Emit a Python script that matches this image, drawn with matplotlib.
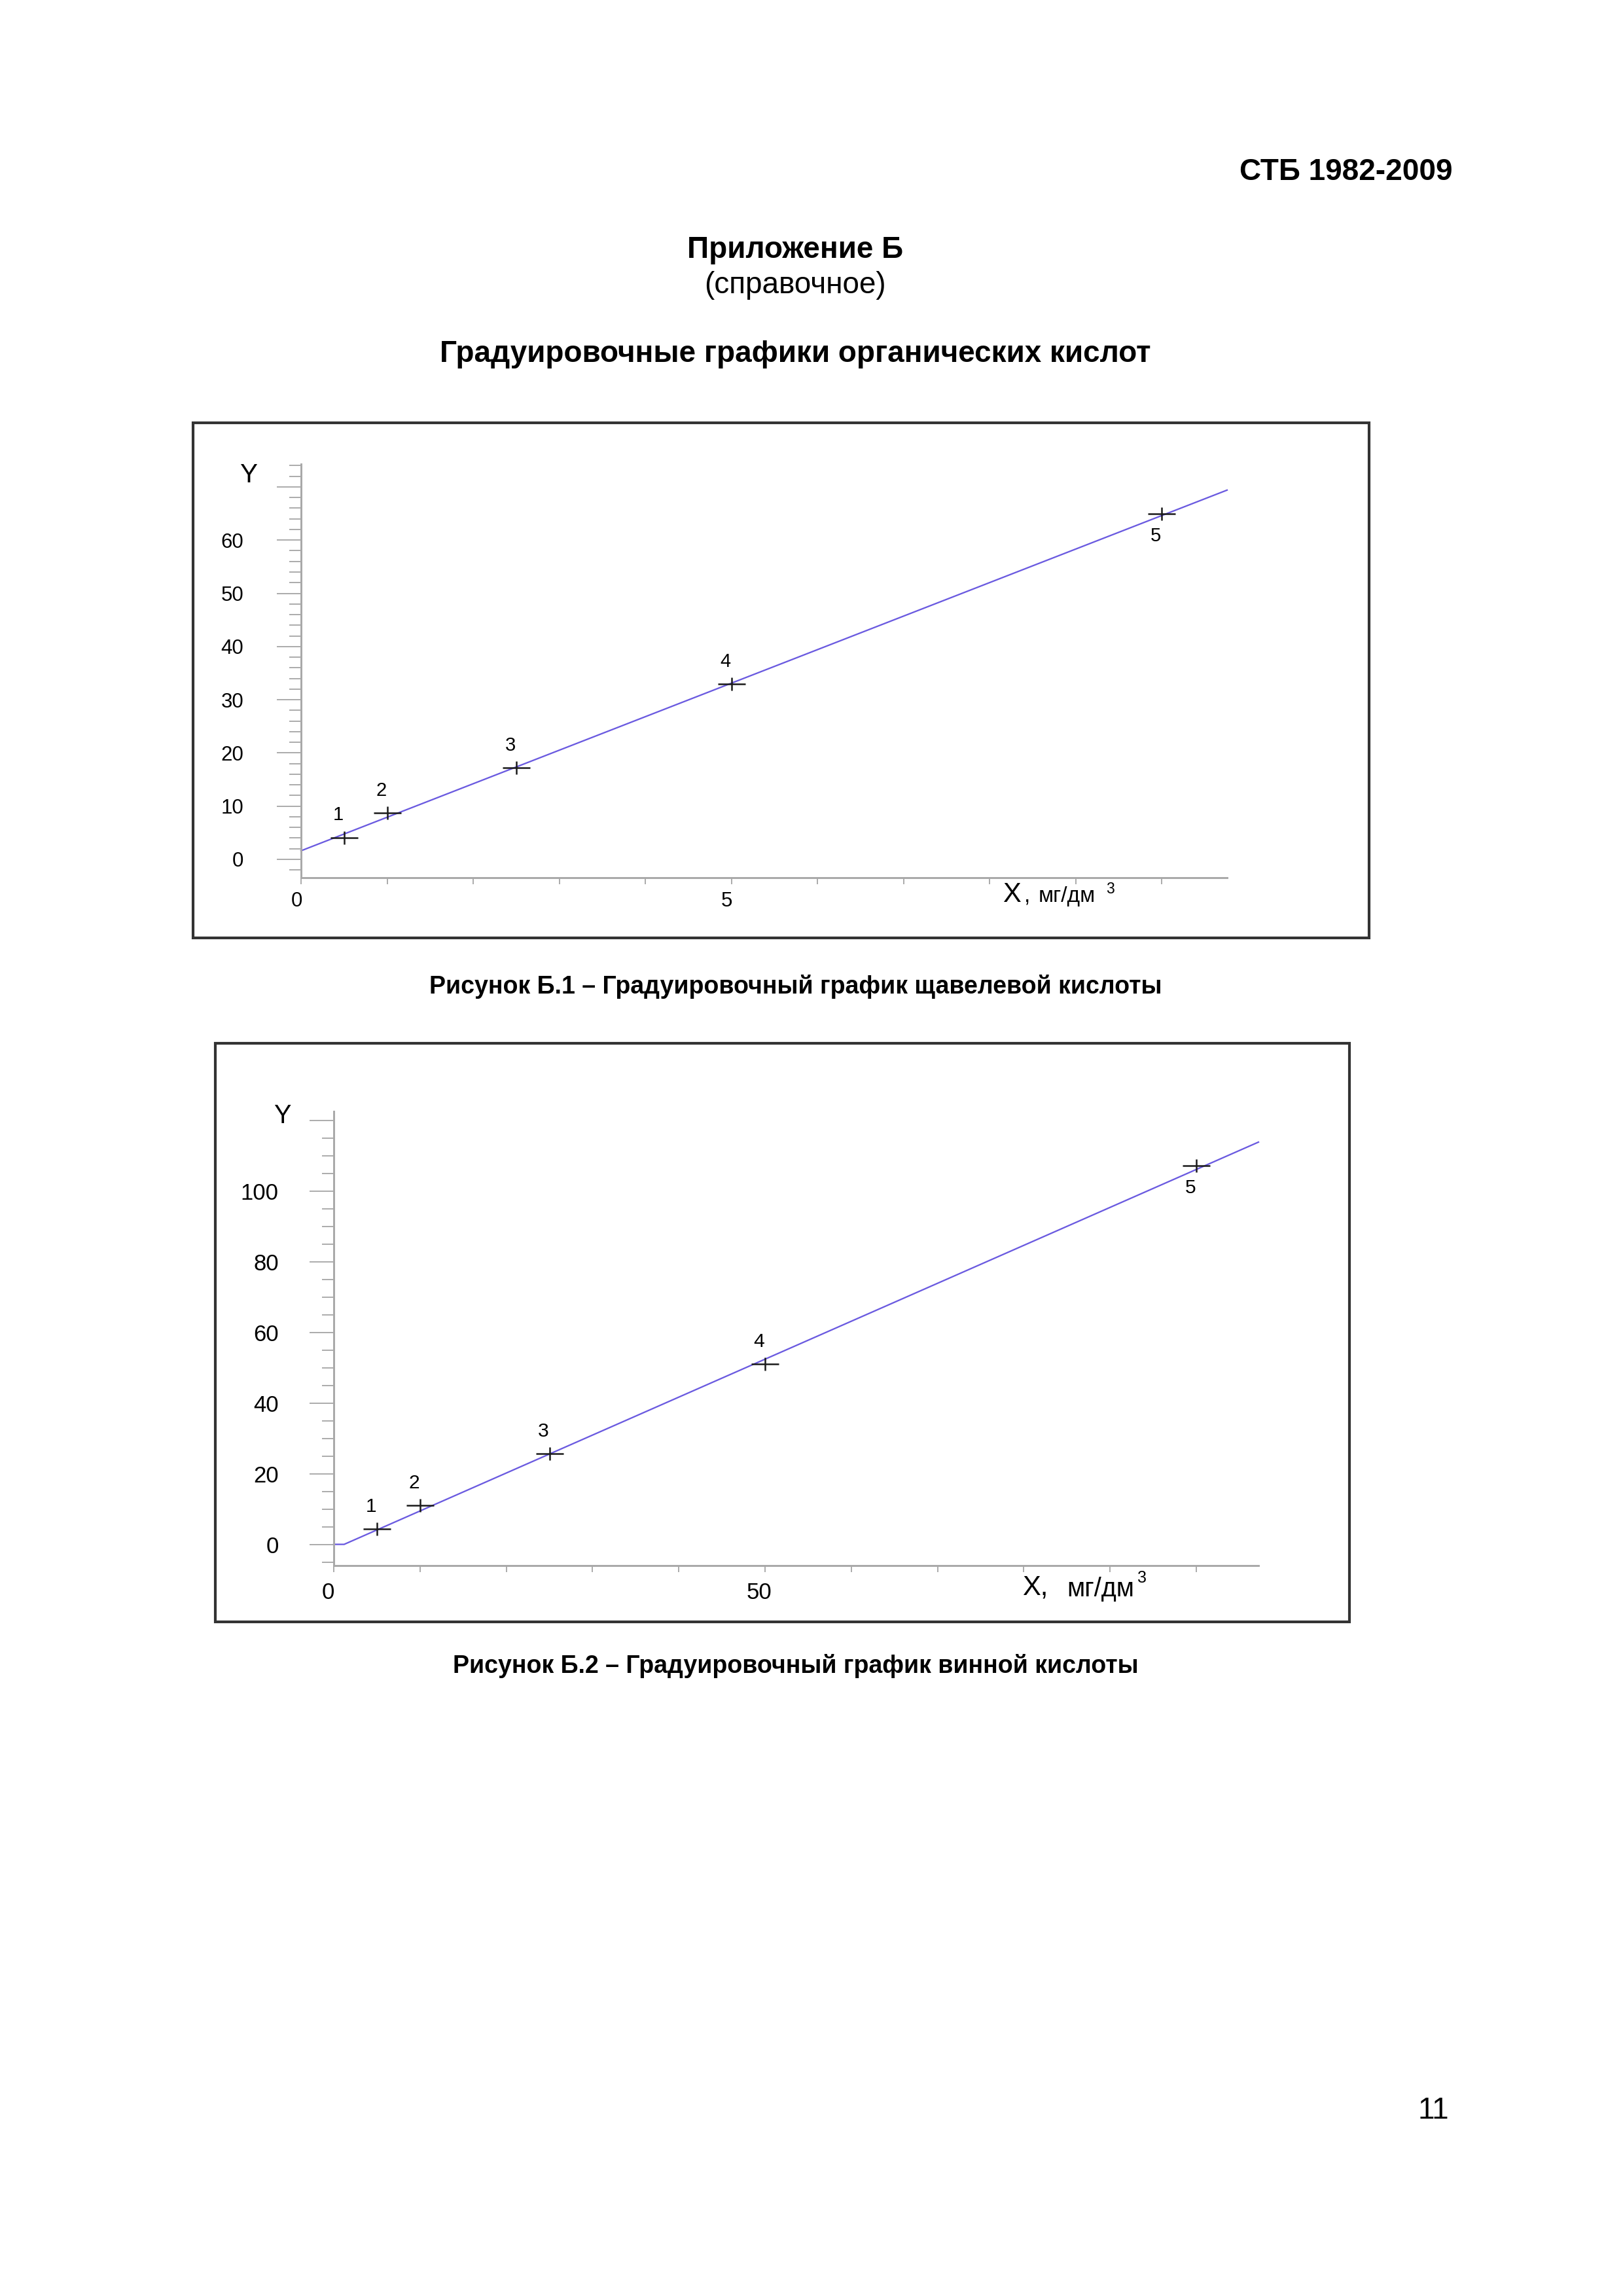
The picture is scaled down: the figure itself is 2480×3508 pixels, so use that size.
import matplotlib
matplotlib.use("Agg")
import matplotlib.pyplot as plt
from matplotlib.patches import Rectangle
from matplotlib.transforms import ScaledTranslation

plt.rcParams['font.family'] = ['Liberation Sans', 'DejaVu Sans']

W, H = 2480, 3508
DPI = 300

# --- data ---
# Рисунок Б.1 - щавелевая кислота
ox_x = [0.5, 1.0, 2.5, 5.0, 10.0]
ox_y = [4.1, 8.7, 17.2, 33.0, 65.0]
ox_fit_x = [0.0, 10.76]
ox_fit_y = [1.6, 69.4]
# Рисунок Б.2 - винная кислота
tar_x = [5.0, 10.0, 25.0, 50.0, 100.0]
tar_y = [4.3, 11.0, 25.7, 51.0, 107.2]
tar_fit_x = [0.0, 1.2, 107.2]
tar_fit_y = [0.0, 0.0, 113.8]
point_labels = ['1', '2', '3', '4', '5']

ox_yticks = [0, 10, 20, 30, 40, 50, 60, 70]
ox_yticklabels = ['0', '10', '20', '30', '40', '50', '60', '']
ox_xticks = list(range(0, 11))
ox_xticklabels = ['0', '', '', '', '', '5', '', '', '', '', '']
tar_yticks = [0, 20, 40, 60, 80, 100, 120]
tar_yticklabels = ['0', '20', '40', '60', '80', '100', '']
tar_xticks = list(range(0, 101, 10))
tar_xticklabels = ['0', '', '', '', '', '50', '', '', '', '', '']

fig = plt.figure(figsize=(W / DPI, H / DPI), dpi=DPI)

def fx(px):
    return px / W

def fy(py):
    return 1 - py / H

def px_axes(left, top, right, bottom):
    return fig.add_axes([fx(left), fy(bottom), (right - left) / W, (bottom - top) / H])

def ftext(x, y, s, **kw):
    fig.text(fx(x), fy(y), s, **kw)

# page text
ftext(2219, 263, 'СТБ 1982-2009', ha='right', va='center', fontsize=11, fontweight='bold')
ftext(1215, 382, 'Приложение Б', ha='center', va='center', fontsize=11, fontweight='bold')
ftext(1215, 436, '(справочное)', ha='center', va='center', fontsize=11)
ftext(1215, 541, 'Градуировочные графики органических кислот', ha='center', va='center',
      fontsize=11, fontweight='bold')
ftext(1216, 1507, 'Рисунок Б.1 – Градуировочный график щавелевой кислоты', ha='center',
      va='center', fontsize=9, fontweight='bold')
ftext(1216, 2545, 'Рисунок Б.2 – Градуировочный график винной кислоты', ha='center',
      va='center', fontsize=9, fontweight='bold')
ftext(2190, 3225, '11', ha='center', va='center', fontsize=11)

# frames around the figures
for (l, t, r, b) in [(295, 646, 2092, 1433), (329, 1594, 2062, 2478)]:
    fig.patches.append(Rectangle((fx(l), fy(b)), (r - l) / W, (b - t) / H,
                                 transform=fig.transFigure, fill=False,
                                 edgecolor='#333333', linewidth=1.0))

AXC = '#a8a8a8'
LINEC = '#6a5ae0'


def setup(ax, xlim, ylim, yticks, ylabels, yminor, xticks, xlabels, tsize, ypad, xpad, xshift):
    ax.set_xlim(*xlim)
    ax.set_ylim(*ylim)
    for s in ['top', 'right']:
        ax.spines[s].set_visible(False)
    for s in ['left', 'bottom']:
        ax.spines[s].set_color(AXC)
        ax.spines[s].set_linewidth(0.7)
    ax.set_yticks(yticks)
    ax.set_yticklabels(ylabels)
    ax.set_yticks(yminor, minor=True)
    ax.set_xticks(xticks)
    ax.set_xticklabels(xlabels)
    ax.tick_params(axis='y', which='major', length=8.9, width=0.45, color=AXC,
                   pad=ypad, labelsize=tsize)
    ax.tick_params(axis='y', which='minor', length=4.3, width=0.45, color=AXC)
    ax.tick_params(axis='x', which='major', length=2.5, width=0.45, color=AXC,
                   pad=xpad, labelsize=tsize)
    # labels under the x axis sit a little left of their ticks
    off = ScaledTranslation(-xshift / 72, 0, fig.dpi_scale_trans)
    for lab in ax.get_xticklabels():
        lab.set_transform(lab.get_transform() + off)
    ax.patch.set_alpha(0)


def draw_points(ax, xs, ys, fit_x, fit_y, lsize):
    ax.plot(fit_x, fit_y, color=LINEC, linewidth=0.55, clip_on=False)
    ax.plot(xs, ys, linestyle='none', marker='_', markersize=10.3, markeredgewidth=0.6,
            color='#1a1a1a')
    ax.plot(xs, ys, linestyle='none', marker='|', markersize=5.0, markeredgewidth=0.6,
            color='#1a1a1a')
    for i, (x, y) in enumerate(zip(xs, ys)):
        dy = -8.2 if i == len(xs) - 1 else 8.2
        ax.annotate(point_labels[i], (x, y), xytext=(-2.2, dy), textcoords='offset points',
                    ha='center', va='center', fontsize=lsize)


# --- chart 1 ---
ax1 = px_axes(460, 709, 1875, 1341)
setup(ax1, (0, 10.76), (-3.46, 74.3), ox_yticks, ox_yticklabels,
      list(range(-2, 75, 2)), ox_xticks, ox_xticklabels, 7.5, 12.2, 2.6, 1.6)
draw_points(ax1, ox_x, ox_y, ox_fit_x, ox_fit_y, 7)
ftext(380, 726, 'Y', ha='center', va='center', fontsize=9.7)
ftext(1532, 1378, 'X', ha='left', va='baseline', fontsize=10)
ftext(1565, 1378, ',', ha='left', va='baseline', fontsize=8)
ftext(1587, 1378, 'мг/дм', ha='left', va='baseline', fontsize=8)
ftext(1690, 1365, '3', ha='left', va='baseline', fontsize=5.5)

# --- chart 2 ---
ax2 = px_axes(510, 1698, 1923, 2392)
setup(ax2, (0, 107.2), (-6, 122.5), tar_yticks, tar_yticklabels,
      list(range(-5, 121, 5)), tar_xticks, tar_xticklabels, 8.3, 11.3, 3.4, 2.2)
draw_points(ax2, tar_x, tar_y, tar_fit_x, tar_fit_y, 7.2)
ftext(431, 1705, 'Y', ha='center', va='center', fontsize=9.5)
ftext(1562, 2436, 'X,', ha='left', va='baseline', fontsize=10)
ftext(1630, 2439, 'мг/дм', ha='left', va='baseline', fontsize=9.5)
ftext(1738, 2418, '3', ha='left', va='baseline', fontsize=6)

fig.savefig('out.png', dpi=DPI)
